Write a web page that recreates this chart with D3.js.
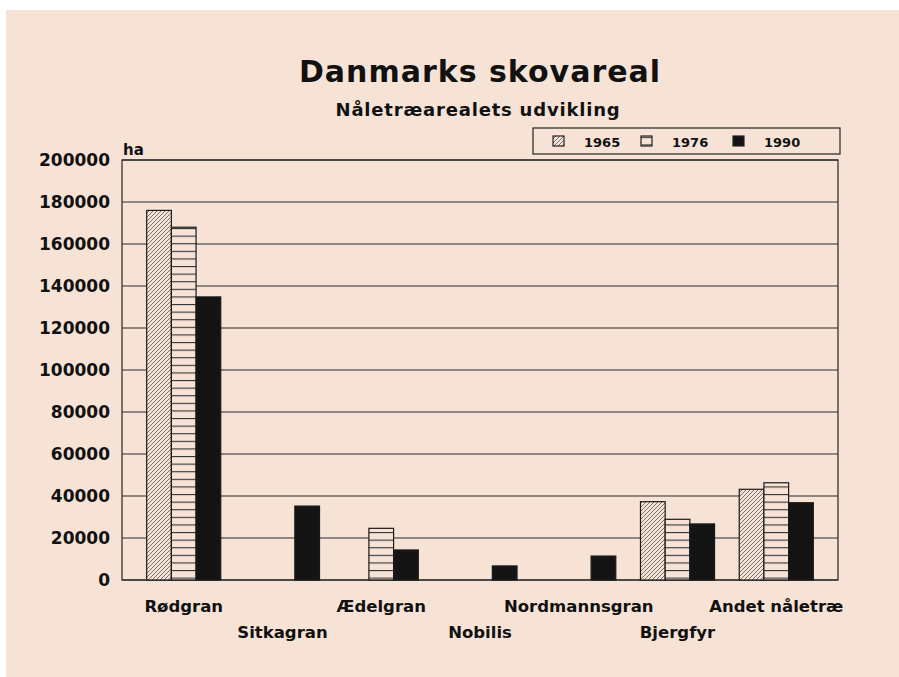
<!DOCTYPE html>
<html>
<head>
<meta charset="utf-8">
<script src="https://cdn.jsdelivr.net/npm/d3@7"></script>
<style>
  body { margin: 0; background: #ffffff; }
  svg text { font-family: "DejaVu Sans", "Liberation Sans", Arial, sans-serif; font-weight: bold; fill: #111; }
</style>
</head>
<body>
<svg id="chart" width="899" height="677"></svg>
<script>
// DATA
const categories = ["Rødgran", "Sitkagran", "Ædelgran", "Nobilis", "Nordmannsgran", "Bjergfyr", "Andet nåletræ"];
const years = ["1965", "1976", "1990"];
const values1965 = [176000, null, null, null, null, 37300, 43200];
const values1976 = [168000, null, 24600, null, null, 28900, 46300];
const values1990 = [134800, 35200, 14300, 6700, 11400, 26700, 36800];
const yTicks = [0, 20000, 40000, 60000, 80000, 100000, 120000, 140000, 160000, 180000, 200000];

const seriesByYear = { "1965": values1965, "1976": values1976, "1990": values1990 };

const width = 899, height = 677;
const plot = { left: 122, right: 838, top: 160, bottom: 580 };
const paper = "#f7e3d6";

const svg = d3.select("#chart");

// paper background
svg.append("rect")
  .attr("x", 6).attr("y", 10)
  .attr("width", width - 6).attr("height", height - 10)
  .attr("fill", paper);

// PATTERNS
const defs = svg.append("defs");
const diag = defs.append("pattern")
  .attr("id", "hatch1965")
  .attr("patternUnits", "userSpaceOnUse")
  .attr("width", 4).attr("height", 4);
diag.append("rect").attr("width", 4).attr("height", 4).attr("fill", paper);
diag.append("path")
  .attr("d", "M-1,1 l2,-2 M0,4 l4,-4 M3,5 l2,-2")
  .attr("stroke", "#555").attr("stroke-width", 0.8);

const horiz = defs.append("pattern")
  .attr("id", "hatch1976")
  .attr("patternUnits", "userSpaceOnUse")
  .attr("width", 8).attr("height", 7.6);
horiz.append("rect").attr("width", 8).attr("height", 7.6).attr("fill", paper);
horiz.append("line")
  .attr("x1", 0).attr("x2", 8).attr("y1", 0.5).attr("y2", 0.5)
  .attr("stroke", "#333").attr("stroke-width", 1.2);

const fills = { "1965": "url(#hatch1965)", "1976": "url(#hatch1976)", "1990": "#141414" };

// SCALES
const xScale = d3.scaleBand()
  .domain(categories)
  .range([plot.left, plot.right])
  .padding(0.25);

const xSub = d3.scaleBand()
  .domain(years)
  .range([0, xScale.bandwidth()]);

const yScale = d3.scaleLinear()
  .domain([0, 200000])
  .range([plot.bottom, plot.top]);

// GRIDLINES
svg.append("g")
  .selectAll("line")
  .data(yTicks)
  .join("line")
  .attr("x1", plot.left).attr("x2", plot.right)
  .attr("y1", d => yScale(d)).attr("y2", d => yScale(d))
  .attr("stroke", "#2a2a2a").attr("stroke-width", 1.1);

// frame
svg.append("rect")
  .attr("x", plot.left).attr("y", plot.top)
  .attr("width", plot.right - plot.left).attr("height", plot.bottom - plot.top)
  .attr("fill", "none").attr("stroke", "#222").attr("stroke-width", 1.2);

// Y AXIS
const yAxis = svg.append("g")
  .attr("transform", `translate(${plot.left}, 0)`)
  .call(d3.axisLeft(yScale).tickValues(yTicks).tickSize(0).tickPadding(12).tickFormat(d => d));
yAxis.select(".domain").remove();
yAxis.selectAll("text")
  .attr("font-size", 17)
  .attr("font-family", "DejaVu Sans, Arial, sans-serif")
  .attr("font-weight", "bold")
  .attr("fill", "#111");

svg.append("text")
  .attr("x", plot.left + 1).attr("y", plot.top - 5)
  .attr("font-size", 15)
  .text("ha");

// BARS
const barData = [];
categories.forEach((c, i) => {
  years.forEach(y => {
    const v = seriesByYear[y][i];
    if (v !== null) barData.push({ category: c, year: y, value: v });
  });
});

svg.append("g")
  .selectAll("rect")
  .data(barData)
  .join("rect")
  .attr("x", d => xScale(d.category) + xSub(d.year))
  .attr("y", d => yScale(d.value))
  .attr("width", xSub.bandwidth())
  .attr("height", d => yScale(0) - yScale(d.value))
  .attr("fill", d => fills[d.year])
  .attr("stroke", "#1a1a1a")
  .attr("stroke-width", 1.2);

// X LABELS (alternating rows)
svg.append("g")
  .selectAll("text")
  .data(categories)
  .join("text")
  .attr("x", d => xScale(d) + xScale.bandwidth() / 2)
  .attr("y", (d, i) => i % 2 === 0 ? 612 : 638)
  .attr("text-anchor", "middle")
  .attr("font-size", 16.5)
  .text(d => d);

// TITLES
svg.append("text")
  .attr("x", 480).attr("y", 82)
  .attr("text-anchor", "middle")
  .attr("font-size", 30)
  .attr("letter-spacing", 1)
  .text("Danmarks skovareal");

svg.append("text")
  .attr("x", 478).attr("y", 116)
  .attr("text-anchor", "middle")
  .attr("font-size", 18)
  .attr("letter-spacing", 0.8)
  .text("Nåletræarealets udvikling");

// LEGEND
const legend = svg.append("g");
legend.append("rect")
  .attr("x", 533).attr("y", 128)
  .attr("width", 307).attr("height", 26)
  .attr("fill", "none").attr("stroke", "#222").attr("stroke-width", 1.2);

const legendX = { "1965": 553, "1976": 641, "1990": 733 };
years.forEach(y => {
  legend.append("rect")
    .attr("x", legendX[y]).attr("y", 136)
    .attr("width", 11).attr("height", 10)
    .attr("fill", fills[y])
    .attr("stroke", "#222").attr("stroke-width", 1.2);
  legend.append("text")
    .attr("x", legendX[y] + 31).attr("y", 147)
    .attr("font-size", 13)
    .text(y);
});
</script>
</body>
</html>
